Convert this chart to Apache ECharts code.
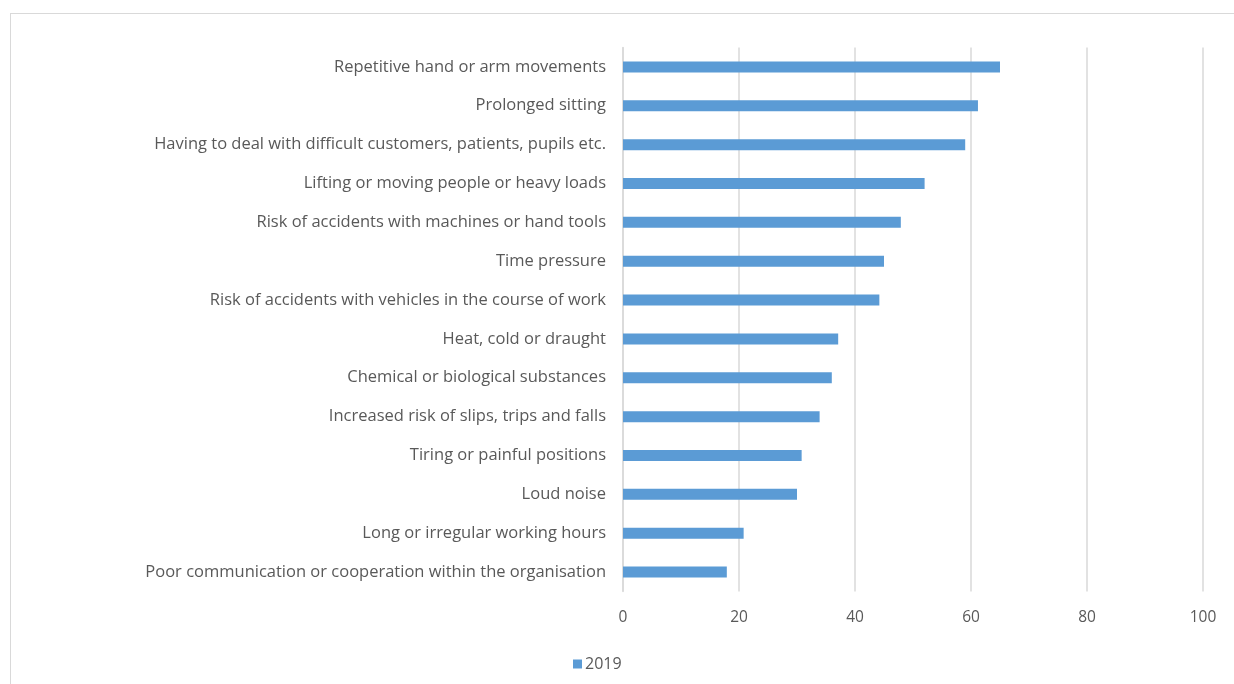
<!DOCTYPE html>
<html>
<head>
<meta charset="utf-8">
<title>Risk factors at work, 2019</title>
<script src="https://cdn.jsdelivr.net/npm/echarts@6/dist/echarts.min.js"></script>
<style>
  html, body { margin: 0; padding: 0; background: #ffffff; }
  #frame {
    position: absolute; left: 10px; top: 13px; width: 1240px; height: 690px;
    border-top: 1.5px solid #d9d9d9; border-left: 1.5px solid #d9d9d9;
    box-sizing: border-box;
  }
  #chart { position: absolute; left: 0; top: 0; width: 1234px; height: 684px; }
</style>
</head>
<body>
<div id="frame"></div>
<div id="chart"></div>
<script>
// Risk factors, listed top to bottom
const categories = [
  "Repetitive hand or arm movements",
  "Prolonged sitting",
  "Having to deal with difficult customers, patients, pupils etc.",
  "Lifting or moving people or heavy loads",
  "Risk of accidents with machines or hand tools",
  "Time pressure",
  "Risk of accidents with vehicles in the course of work",
  "Heat, cold or draught",
  "Chemical or biological substances",
  "Increased risk of slips, trips and falls",
  "Tiring or painful positions",
  "Loud noise",
  "Long or irregular working hours",
  "Poor communication or cooperation within the organisation"
];
// Share reporting each factor, 2019
const values2019 = [65, 61.2, 59, 52, 47.9, 45, 44.2, 37.1, 36, 33.9, 30.8, 30, 20.8, 17.9];
const seriesName = "2019";
const xTicks = [0, 20, 40, 60, 80, 100];

const chart = echarts.init(document.getElementById('chart'), null, { renderer: 'canvas' });
const textColor = '#595959';
const font = '"Open Sans", "Liberation Sans", sans-serif';

chart.setOption({
  animation: false,
  backgroundColor: 'transparent',
  grid: { left: 623, right: 31, top: 47.5, bottom: 92.5, containLabel: false },
  legend: {
    data: [seriesName],
    top: 656,
    left: 573,
    padding: 0,
    itemWidth: 9, itemHeight: 9, itemGap: 4,
    icon: 'rect',
    textStyle: { color: textColor, fontSize: 16, fontFamily: font, padding: [0, 0, 0, -2] }
  },
  xAxis: {
    type: 'value',
    min: xTicks[0], max: xTicks[xTicks.length - 1], interval: 20,
    axisLine: { show: false },
    axisTick: { show: false },
    splitLine: { show: true, lineStyle: { color: '#d9d9d9', width: 1.5 } },
    axisLabel: { color: textColor, fontSize: 15.5, fontFamily: font, margin: 18 }
  },
  yAxis: {
    type: 'category',
    inverse: true,
    data: categories,
    axisLine: { show: true, lineStyle: { color: '#d9d9d9', width: 1.5 } },
    axisTick: { show: false },
    axisLabel: { color: textColor, fontSize: 16.5, fontFamily: font, margin: 17 }
  },
  series: [{
    name: seriesName,
    type: 'bar',
    data: values2019,
    barWidth: 11,
    itemStyle: { color: '#5b9bd5' }
  }]
});
</script>
</body>
</html>
